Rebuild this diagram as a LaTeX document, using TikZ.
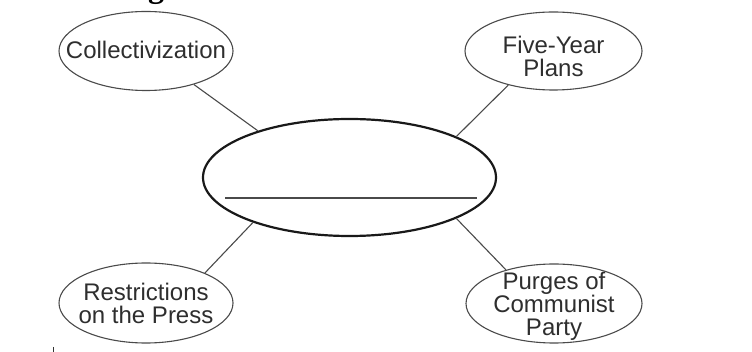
\documentclass[tikz,border=0pt]{standalone}
\usepackage{fontspec}
\setmainfont{Liberation Sans}
\newfontfamily\headfont{Liberation Serif}
\usetikzlibrary{shapes.geometric,calc}
\definecolor{edgegray}{HTML}{4A4A4A}
\definecolor{txtgray}{HTML}{2E2E2E}
\begin{document}
\begin{tikzpicture}[x=1pt,y=-1pt,
  bubble/.style={ellipse,draw=edgegray,line width=1.1pt,inner sep=0pt},
  lbl/.style={inner sep=0pt,align=center,text=txtgray,font=\fontsize{24}{23}\selectfont},
  hub/.style={ellipse,draw=black!90,line width=2.2pt,inner sep=0pt},
  spoke/.style={draw=edgegray,line width=1.1pt}]
\useasboundingbox (0,0) rectangle (752,352);
\clip (0,0) rectangle (752,352);
\node[anchor=base,font=\headfont\bfseries\fontsize{32}{32}\selectfont] (head) at (156,-2) {g};
\node[bubble,minimum width=174pt,minimum height=79pt] (collect) at (146,51) {};
\node[bubble,minimum width=177pt,minimum height=78pt] (five) at (553.5,51) {};
\node[hub,minimum width=293pt,minimum height=117pt] (hub) at (349.5,177.5) {};
\node[bubble,minimum width=174pt,minimum height=80pt] (restr) at (146,303) {};
\node[bubble,minimum width=176pt,minimum height=79pt] (purges) at (554,303.5) {};
\node[lbl] (collectT) at (146,50) {Collectivization};
\node[lbl] (fiveT) at (553.5,56) {Five-Year\\Plans};
\node[lbl] (restrT) at (146,303) {Restrictions\\on the Press};
\node[lbl] (purgesT) at (554,306) {Purges of\\Communist\\Party};
\draw[spoke] (collect.-35.9) -- (hub.153.1);
\draw[spoke] (five.-143.4) -- (hub.21.3);
\draw[spoke] (restr.27.8) -- (hub.205.7);
\draw[spoke] (purges.145.6) -- (hub.-21.9);
\coordinate (lineL) at ($(hub.center)+(-124.5,20.5)$);
\coordinate (lineR) at ($(hub.center)+(127.5,20.5)$);
\draw[draw=edgegray,line width=1.1pt] (lineL) -- (lineR);
\coordinate (tickT) at (53,347);
\coordinate (tickB) at (53,352);
\draw[line width=0.8pt,black!80] (tickT) -- (tickB);
\end{tikzpicture}
\end{document}
